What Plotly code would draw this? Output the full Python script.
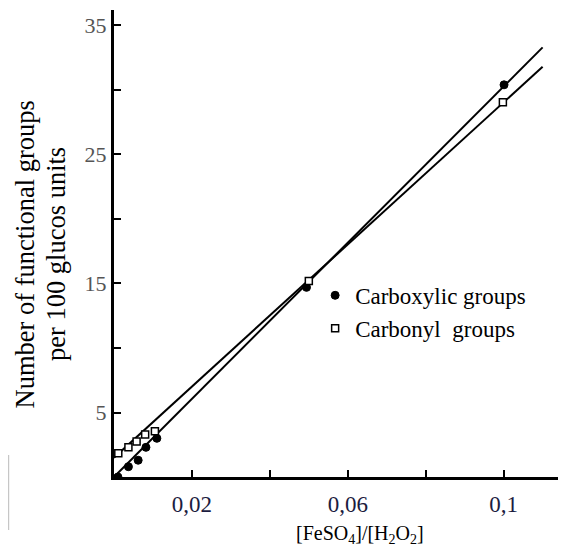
import plotly.graph_objects as go

# Data
carboxylic_x = [0.001, 0.0037, 0.0062, 0.0082, 0.011, 0.0494, 0.1001]
carboxylic_y = [0.0, 0.8, 1.3, 2.3, 3.0, 14.7, 30.4]
carbonyl_x = [0.0011, 0.0037, 0.0058, 0.008, 0.0105, 0.050, 0.0998]
carbonyl_y = [1.85, 2.3, 2.75, 3.3, 3.55, 15.2, 29.05]

# Straight fitted lines (end points)
fit_x = [0.0, 0.110]
carboxylic_fit = [0.0, 33.3]
carbonyl_fit = [1.5, 31.8]

x_tickvals = [0.02, 0.04, 0.06, 0.08, 0.1]
x_ticktext = ["0,02", "", "0,06", "", "0,1"]
y_tickvals = [5, 10, 15, 20, 25, 30, 35]
y_ticktext = ["5", "", "15", "", "25", "", "35"]

SERIF = "Liberation Serif, Times New Roman, serif"

fig = go.Figure()
fig.add_trace(go.Scatter(x=fit_x, y=carboxylic_fit, mode="lines",
                         line=dict(color="black", width=2), showlegend=False, hoverinfo="skip"))
fig.add_trace(go.Scatter(x=fit_x, y=carbonyl_fit, mode="lines",
                         line=dict(color="black", width=2), showlegend=False, hoverinfo="skip"))
fig.add_trace(go.Scatter(x=carboxylic_x, y=carboxylic_y, mode="markers", name="Carboxylic groups",
                         marker=dict(symbol="circle", size=8, color="black",
                                     line=dict(color="black", width=1))))
fig.add_trace(go.Scatter(x=carbonyl_x, y=carbonyl_y, mode="markers", name="Carbonyl  groups",
                         marker=dict(symbol="square", size=7, color="white",
                                     line=dict(color="black", width=1.5))))

# page body has an 8px margin, so the figure is shrunk/offset to compensate
fig.update_layout(
    width=558, height=539,
    margin=dict(l=106, r=0, t=2, b=70),
    paper_bgcolor="white", plot_bgcolor="white",
    font=dict(family=SERIF, color="black"),
    showlegend=True,
    legend=dict(x=0.445, y=0.435, xanchor="left", yanchor="top",
                font=dict(family=SERIF, size=23, color="black"),
                bgcolor="rgba(0,0,0,0)", tracegroupgap=0, itemwidth=30),
    xaxis=dict(range=[0, 0.116], showgrid=False, zeroline=False,
               showline=True, linecolor="black", linewidth=3,
               ticks="inside", ticklen=7, tickwidth=2, tickcolor="black",
               tickvals=x_tickvals, ticktext=x_ticktext,
               tickfont=dict(family=SERIF, size=23, color="#1c1c40"),
               ticklabelstandoff=4),
    yaxis=dict(range=[0, 36.2], showgrid=False, zeroline=False,
               showline=True, linecolor="black", linewidth=3,
               ticks="inside", ticklen=7, tickwidth=2, tickcolor="black",
               tickvals=y_tickvals, ticktext=y_ticktext,
               tickfont=dict(family=SERIF, size=22, color="#555555")),
    annotations=[
        dict(text="[FeSO<sub>4</sub>]/[H<sub>2</sub>O<sub>2</sub>]", xref="paper", yref="paper",
             x=0.544, y=-0.092, xanchor="center", yanchor="top", showarrow=False,
             font=dict(family=SERIF, size=20, color="black")),
        dict(text="Number of functional groups", xref="paper", yref="paper",
             x=-0.1958, y=0.4775, xanchor="center", yanchor="middle", showarrow=False,
             textangle=-90, font=dict(family=SERIF, size=26.5, color="black")),
        dict(text="per 100 glucos units", xref="paper", yref="paper",
             x=-0.1283, y=0.4775, xanchor="center", yanchor="middle", showarrow=False,
             textangle=-90, font=dict(family=SERIF, size=26.5, color="black")),
    ],
    shapes=[dict(type="line", xref="paper", yref="paper", x0=-0.233, x1=-0.233,
                 y0=(477 - 455) / 467, y1=(477 - 530) / 467,
                 line=dict(color="#bbbbbb", width=1))],
)

fig.write_html("out.html")
